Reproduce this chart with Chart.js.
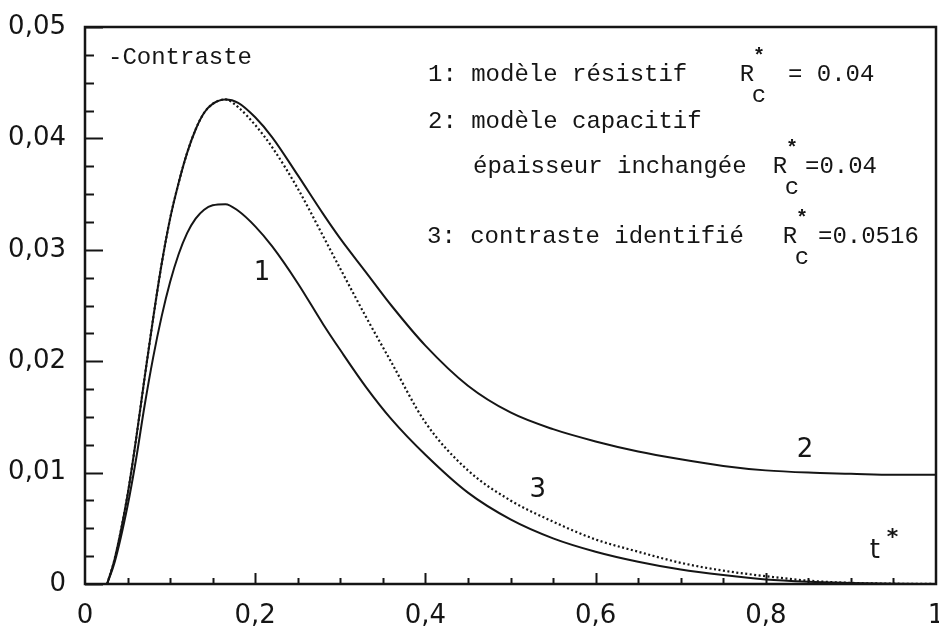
<!DOCTYPE html>
<html lang="fr">
<head>
<meta charset="utf-8">
<title>Contraste</title>
<script src="https://cdn.jsdelivr.net/npm/chart.js@4.4.1/dist/chart.umd.min.js"></script>
<style>
  html, body { margin: 0; padding: 0; background: #fff; }
  canvas { display: block; }
</style>
</head>
<body>
<canvas id="chart" width="939" height="628"></canvas>
<script>
/* global Chart */

// t* sampling and the three contrast curves
const tGrid = [0.026, 0.035, 0.05, 0.06, 0.07, 0.08, 0.09, 0.10, 0.11, 0.12, 0.13, 0.14, 0.15, 0.165,
               0.18, 0.20, 0.22, 0.25, 0.28, 0.30, 0.33, 0.36, 0.40, 0.45, 0.50, 0.55, 0.60, 0.65,
               0.70, 0.75, 0.80, 0.85, 0.90, 0.95, 1.00];

// 1: modèle résistif
const resistif = [0, 0.0020, 0.0070, 0.0112, 0.0160, 0.0203, 0.0240, 0.0271, 0.0296, 0.0315, 0.0328, 0.0336, 0.0340, 0.0341,
                  0.0335, 0.0321, 0.0303, 0.0270, 0.0233, 0.0210, 0.0177, 0.0148, 0.0116, 0.0082, 0.0058, 0.0041, 0.0029, 0.0020,
                  0.0013, 0.0008, 0.0004, 0.0002, 0.0001, 0.00003, 0];

// 2: modèle capacitif, épaisseur inchangée
const capacitif = [0, 0.0023, 0.0080, 0.0130, 0.0185, 0.0238, 0.0287, 0.0328, 0.0360, 0.0387, 0.0408, 0.0423, 0.0431, 0.0435,
                   0.0432, 0.0419, 0.0401, 0.0367, 0.0332, 0.0310, 0.0280, 0.0250, 0.0214, 0.0178, 0.0154, 0.0139, 0.0128, 0.0119,
                   0.0112, 0.0106, 0.0102, 0.0100, 0.0099, 0.0098, 0.0098];

// 3: contraste identifié
const identifie = [0, 0.0023, 0.0080, 0.0130, 0.0185, 0.0238, 0.0287, 0.0328, 0.0360, 0.0387, 0.0408, 0.0423, 0.0431, 0.0435,
                   0.0428, 0.0412, 0.0392, 0.0355, 0.0312, 0.0283, 0.0240, 0.0199, 0.0145, 0.0102, 0.0075, 0.0056, 0.0040, 0.0029,
                   0.0019, 0.0012, 0.0007, 0.0003, 0.0001, 0.00003, 0];

const xTicks = [0, 0.2, 0.4, 0.6, 0.8, 1];
const xTickLabels = ['0', '0,2', '0,4', '0,6', '0,8', '1'];
const yTicks = [0, 0.01, 0.02, 0.03, 0.04, 0.05];
const yTickLabels = ['0', '0,01', '0,02', '0,03', '0,04', '0,05'];
const xMinorStep = 0.05;
const yMinorStep = 0.0025;

// curve numbers, placed in data units
const curveTags = [
  { text: '1', x: 0.208, y: 0.0279 },
  { text: '2', x: 0.846, y: 0.0120 },
  { text: '3', x: 0.532, y: 0.0084 },
];

const INK = '#151515';
const TICK_FONT = { family: '"DejaVu Sans", sans-serif', size: 26 };
const MONO = '24px "Liberation Mono", "DejaVu Sans Mono", monospace';

function toPoints(ys) {
  return tGrid.map((t, i) => ({ x: t, y: ys[i] }));
}

// frame, inward ticks, curve tags and the text block
const paperPlugin = {
  id: 'paper',
  afterDatasetsDraw(chart) {
    const { ctx, chartArea: a, scales: { x, y } } = chart;
    ctx.save();
    ctx.strokeStyle = INK;
    ctx.lineWidth = 2.5;
    ctx.strokeRect(a.left, a.top, a.right - a.left, a.bottom - a.top);

    ctx.lineWidth = 2;
    for (let i = 0; i <= Math.round(0.05 / yMinorStep); i++) {
      const v = i * yMinorStep;
      const major = yTicks.some((t) => Math.abs(t - v) < 1e-9);
      const py = Math.round(y.getPixelForValue(v)) + 0.5;
      ctx.beginPath();
      ctx.moveTo(a.left, py);
      ctx.lineTo(a.left + (major ? 18 : 9), py);
      ctx.stroke();
    }
    for (let i = 1; i < Math.round(1 / xMinorStep); i++) {
      const v = i * xMinorStep;
      const major = xTicks.some((t) => Math.abs(t - v) < 1e-9);
      const px = Math.round(x.getPixelForValue(v)) + 0.5;
      ctx.beginPath();
      ctx.moveTo(px, a.bottom);
      ctx.lineTo(px, a.bottom - (major ? 11 : 6));
      ctx.stroke();
    }

    ctx.fillStyle = INK;
    ctx.textBaseline = 'middle';
    ctx.textAlign = 'center';
    ctx.font = '26px "DejaVu Sans", sans-serif';
    curveTags.forEach((tag) => {
      ctx.fillText(tag.text, x.getPixelForValue(tag.x), y.getPixelForValue(tag.y));
    });
    // t*
    ctx.fillText('t', x.getPixelForValue(0.928), y.getPixelForValue(0.0029));
    ctx.font = 'bold 22px "DejaVu Sans", sans-serif';
    ctx.fillText('*', x.getPixelForValue(0.949), y.getPixelForValue(0.0041));

    // text block, offsets from the frame corner
    const L = a.left, T = a.top;
    ctx.textAlign = 'left';
    ctx.font = MONO;
    ctx.fillText('-Contraste', L + 23, T + 31);

    function rc(xR, yRow, rest, restX) {
      ctx.font = MONO;
      ctx.textAlign = 'center';
      ctx.fillText('R', xR, yRow);
      ctx.fillText('c', xR + 12, yRow + 21);
      ctx.font = 'bold 20px "Liberation Mono", monospace';
      ctx.fillText('*', xR + 12, yRow - 18);
      ctx.font = MONO;
      ctx.textAlign = 'left';
      ctx.fillText(rest, restX, yRow);
    }

    ctx.fillText('1: modèle résistif', L + 343, T + 48);
    rc(L + 662, T + 48, '= 0.04', L + 703);
    ctx.fillText('2: modèle capacitif', L + 343, T + 95);
    ctx.fillText('épaisseur inchangée', L + 388, T + 140);
    rc(L + 695, T + 140, '=0.04', L + 720);
    ctx.fillText('3: contraste identifié', L + 342, T + 210);
    rc(L + 705, T + 210, '=0.0516', L + 733);
    ctx.restore();
  },
};

function lineSet(label, ys, dash) {
  return {
    label,
    data: toPoints(ys),
    borderColor: INK,
    borderWidth: dash ? 2.2 : 2,
    borderDash: dash || [],
    pointRadius: 0,
    fill: false,
    cubicInterpolationMode: 'monotone',
  };
}

new Chart(document.getElementById('chart'), {
  type: 'line',
  data: {
    datasets: [
      lineSet('3: contraste identifié', identifie, [2, 2.5]),
      lineSet('1: modèle résistif', resistif),
      lineSet('2: modèle capacitif', capacitif),
    ],
  },
  options: {
    responsive: false,
    devicePixelRatio: 1,
    animation: false,
    layout: { padding: { top: 27, right: 3, left: 0, bottom: 0 } },
    plugins: { legend: { display: false }, tooltip: { enabled: false } },
    scales: {
      x: {
        type: 'linear',
        min: 0,
        max: 1,
        grid: { display: false },
        border: { display: false },
        ticks: {
          autoSkip: false,
          maxRotation: 0,
          padding: 9,
          color: INK,
          font: TICK_FONT,
          callback: (v, i) => xTickLabels[i],
        },
        afterBuildTicks: (s) => { s.ticks = xTicks.map((v) => ({ value: v })); },
        afterFit: (s) => { s.height = 44; s.paddingLeft = 0; s.paddingRight = 0; },
      },
      y: {
        min: 0,
        max: 0.05,
        grid: { display: false },
        border: { display: false },
        ticks: {
          autoSkip: false,
          padding: 11,
          color: INK,
          font: TICK_FONT,
          callback: (v, i) => yTickLabels[i],
        },
        afterBuildTicks: (s) => { s.ticks = yTicks.map((v) => ({ value: v })); },
        afterFit: (s) => { s.width = 85; s.paddingTop = 0; s.paddingBottom = 0; },
      },
    },
  },
  plugins: [paperPlugin],
});
</script>
</body>
</html>
